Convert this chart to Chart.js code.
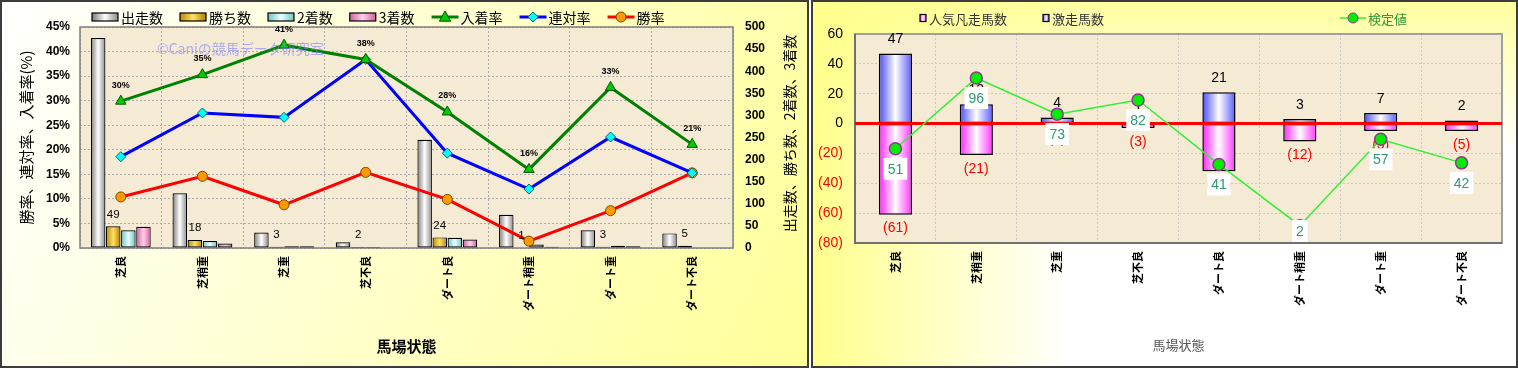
<!DOCTYPE html>
<html lang="ja">
<head>
<meta charset="utf-8">
<title>馬場状態別成績</title>
<script src="https://cdn.jsdelivr.net/npm/chart.js"></script>
<style>
  html, body { margin: 0; padding: 0; background: #fff; }
  body { width: 1518px; height: 369px; position: relative; overflow: hidden; }
  canvas { position: absolute; top: 0; }
  #left { left: 0; }
  #right { left: 811px; }
</style>
</head>
<body>
<canvas id="left" width="809" height="368"></canvas>
<canvas id="right" width="707" height="368"></canvas>
<script>
// ---- データ ----
const categories = ['芝良', '芝稍重', '芝重', '芝不良', 'ダート良', 'ダート稍重', 'ダート重', 'ダート不良'];

// 左：成績
const runs    = [475, 124, 35, 13, 245, 75, 40, 33];   // 出走数
const wins    = [49, 18, 3, 2, 24, 1, 3, 5];           // 勝ち数
const seconds = [40, 16, 4, 2, 23, 8, 5, 0];           // 2着数
const thirds  = [48, 10, 4, 0, 19, 3, 4, 1];           // 3着数
const placeRate  = [29.9, 35.3, 41.3, 38.4, 27.7, 16.0, 32.7, 21.1]; // 入着率(%)
const rentaiRate = [18.6, 27.5, 26.6, 38.4, 19.3, 12.0, 22.6, 15.3]; // 連対率(%)
const winRate    = [10.4, 14.6, 8.8, 15.4, 9.9, 1.4, 7.6, 15.3];     // 勝率(%)
const rateTicks  = { min: 0, max: 45, step: 5 };
const countTicks = { min: 0, max: 500, step: 50 };

// 右：激走／凡走
const gekisou = [47, 13, 4, 1, 21, 3, 7, 2];           // 激走馬数
const bonsou  = [61, 21, 1, 3, 32, 12, 5, 5];          // 人気凡走馬数（下向きに描く）
const kentei  = [51, 96, 73, 82, 41, 2, 57, 42];       // 検定値
const diffTicks = { min: -80, max: 60, step: 20 };

// ---- 共通 ----
const JP = '"Noto Sans CJK JP", sans-serif';
const NUM = '"Liberation Sans", Arial, sans-serif';
Chart.defaults.font.family = JP;
Chart.defaults.color = '#000';

// 棒を円柱風のグラデーションで塗る
function barGradient(stops) {
  return function (ctx) {
    const el = ctx.element;
    if (!el || el.width === undefined || isNaN(el.x)) return stops[1];
    const g = ctx.chart.ctx.createLinearGradient(el.x - el.width / 2, 0, el.x + el.width / 2, 0);
    g.addColorStop(0, stops[0]);
    g.addColorStop(0.5, stops[1]);
    g.addColorStop(1, stops[2]);
    return g;
  };
}

function drawMarker(c, style, x, y, r, fill, stroke, lw) {
  c.save();
  c.beginPath();
  if (style === 'triangle') {
    c.moveTo(x, y - r); c.lineTo(x + r * 0.95, y + r * 0.7); c.lineTo(x - r * 0.95, y + r * 0.7); c.closePath();
  } else if (style === 'rectRot') {
    c.moveTo(x, y - r); c.lineTo(x + r, y); c.lineTo(x, y + r); c.lineTo(x - r, y); c.closePath();
  } else {
    c.arc(x, y, r, 0, Math.PI * 2);
  }
  c.fillStyle = fill; c.fill();
  c.lineWidth = lw; c.strokeStyle = stroke; c.stroke();
  c.restore();
}

function swatchGradient(c, x, w, stops) {
  const g = c.createLinearGradient(x, 0, x + w, 0);
  g.addColorStop(0, stops[0]); g.addColorStop(0.5, stops[1]); g.addColorStop(1, stops[2]);
  return g;
}

// 凡例を描く（item.x があればその位置、なければ続けて並べる）
function drawLegend(c, items, startX, y, opt) {
  let x = startX;
  c.save();
  c.font = opt.font;
  c.textBaseline = 'middle';
  items.forEach(it => {
    if (it.x !== undefined) x = it.x;
    if (it.kind === 'bar') {
      c.fillStyle = swatchGradient(c, x, it.w, it.colors);
      c.fillRect(x, y - it.h / 2, it.w, it.h);
      c.lineWidth = 1.2; c.strokeStyle = '#000';
      c.strokeRect(x, y - it.h / 2, it.w, it.h);
      x += it.w + 3;
    } else {
      c.beginPath(); c.moveTo(x, y); c.lineTo(x + it.w, y);
      c.lineWidth = it.lw; c.strokeStyle = it.line; c.stroke();
      drawMarker(c, it.marker, x + it.w / 2, y, it.r, it.fill, it.stroke, 1);
      x += it.w + 2;
    }
    c.fillStyle = it.color || opt.color;
    c.fillText(it.text, x, y + 1);
    x += c.measureText(it.text).width + opt.gap;
  });
  c.restore();
}

// ---- 左のチャート ----
const runsColors   = ['#7c7c7c', '#ffffff', '#8a8a8a'];
const winsColors   = ['#b88a00', '#ffe066', '#b08000'];
const secondColors = ['#6cc4c4', '#e8ffff', '#6cc4c4'];
const thirdColors  = ['#d0609c', '#ffd0ec', '#d0609c'];

const leftLegend = [
  { text: '出走数', kind: 'bar', w: 26, h: 8, colors: runsColors },
  { text: '勝ち数', kind: 'bar', w: 26, h: 8, colors: winsColors },
  { text: '2着数', kind: 'bar', w: 26, h: 8, colors: secondColors },
  { text: '3着数', kind: 'bar', w: 26, h: 8, colors: thirdColors },
  { text: '入着率', kind: 'line', w: 27, lw: 3, line: '#008000', marker: 'triangle', r: 6, fill: '#00cc00', stroke: '#005500' },
  { text: '連対率', kind: 'line', w: 27, lw: 3, line: '#0000ff', marker: 'rectRot', r: 5, fill: '#00ffff', stroke: '#006666' },
  { text: '勝率', kind: 'line', w: 27, lw: 3, line: '#ff0000', marker: 'circle', r: 5, fill: '#ff9900', stroke: '#7a4a00' }
];

const leftDecor = {
  id: 'leftDecor',
  beforeDraw(chart) {
    const c = chart.ctx, w = chart.width, h = chart.height, a = chart.chartArea;
    const g = c.createLinearGradient(0, 0, w, h);
    g.addColorStop(0, '#ffffff');
    g.addColorStop(1, '#ffff99');
    c.save();
    c.fillStyle = g; c.fillRect(0, 0, w, h);
    c.lineWidth = 2; c.strokeStyle = '#3c3c3c'; c.strokeRect(1, 1, w - 2, h - 2);
    c.fillStyle = '#f5ebd5';
    c.fillRect(a.left, a.top, a.right - a.left, a.bottom - a.top);
    c.restore();
  },
  beforeDatasetsDraw(chart) {
    const c = chart.ctx, a = chart.chartArea;
    c.save();
    c.lineWidth = 1.5; c.strokeStyle = '#808080';
    c.strokeRect(a.left, a.top, a.right - a.left, a.bottom - a.top);
    c.restore();
  },
  afterDatasetsDraw(chart) {
    const c = chart.ctx, a = chart.chartArea;
    c.save();
    // 勝ち数の値
    c.fillStyle = '#000';
    c.textAlign = 'center'; c.textBaseline = 'middle';
    c.font = '11.5px ' + NUM;
    chart.getDatasetMeta(4).data.forEach((el, i) => {
      c.fillText(String(wins[i]), el.x, el.y - 12);
    });
    // 入着率の値
    c.font = 'bold 9px ' + NUM;
    chart.getDatasetMeta(0).data.forEach((el, i) => {
      c.fillText(Math.round(placeRate[i]) + '%', el.x, el.y - 16);
    });
    // 透かし
    c.globalAlpha = 0.6;
    c.fillStyle = '#7f7fff';
    c.font = '14px ' + JP;
    c.textAlign = 'left';
    c.fillText('©Caniの競馬データ研究室', 157, 49);
    c.globalAlpha = 1;
    // 右軸タイトル（下から上へ読む）
    c.translate(790, (a.top + a.bottom) / 2 - 4);
    c.rotate(-Math.PI / 2);
    c.textAlign = 'center';
    c.fillStyle = '#000';
    c.font = '14px ' + JP;
    c.fillText('出走数、勝ち数、2着数、3着数', 0, 0);
    c.restore();
    drawLegend(c, leftLegend, 92, 17, { font: '14px ' + JP, color: '#000', gap: 17 });
  }
};

const gridDash = { display: false, dash: [2, 2] };

const leftChart = new Chart(document.getElementById('left'), {
  type: 'bar',
  data: {
    labels: categories,
    datasets: [
      { type: 'line', label: '入着率', data: placeRate, yAxisID: 'y', order: 0,
        borderColor: '#008000', borderWidth: 3, tension: 0,
        pointStyle: 'triangle', pointRadius: 6, pointBackgroundColor: '#00cc00',
        pointBorderColor: '#005500', pointBorderWidth: 1 },
      { type: 'line', label: '連対率', data: rentaiRate, yAxisID: 'y', order: 0,
        borderColor: '#0000ff', borderWidth: 3, tension: 0,
        pointStyle: 'rectRot', pointRadius: 5, pointBackgroundColor: '#00ffff',
        pointBorderColor: '#006666', pointBorderWidth: 1 },
      { type: 'line', label: '勝率', data: winRate, yAxisID: 'y', order: 0,
        borderColor: '#ff0000', borderWidth: 3, tension: 0,
        pointStyle: 'circle', pointRadius: 5, pointBackgroundColor: '#ff9900',
        pointBorderColor: '#7a4a00', pointBorderWidth: 1 },
      { label: '出走数', data: runs, yAxisID: 'y1', order: 1, backgroundColor: barGradient(runsColors) },
      { label: '勝ち数', data: wins, yAxisID: 'y1', order: 1, backgroundColor: barGradient(winsColors) },
      { label: '2着数', data: seconds, yAxisID: 'y1', order: 1, backgroundColor: barGradient(secondColors) },
      { label: '3着数', data: thirds, yAxisID: 'y1', order: 1, backgroundColor: barGradient(thirdColors) }
    ]
  },
  options: {
    responsive: false,
    animation: false,
    layout: { padding: { top: 27, left: 0, right: 0, bottom: 0 } },
    datasets: {
      bar: { categoryPercentage: 0.74, barPercentage: 0.96, borderColor: '#000', borderWidth: 1.2, borderSkipped: false }
    },
    plugins: { legend: { display: false }, tooltip: { enabled: false } },
    scales: {
      x: {
        afterFit: s => { s.height = 120; },
        grid: { color: '#aaaaaa', drawTicks: false, offset: true },
        border: gridDash,
        ticks: { minRotation: 90, maxRotation: 90, autoSkip: false, padding: 8,
                 font: { size: 11, weight: 'bold' }, color: '#000' },
        title: { display: true, text: '馬場状態', font: { size: 15, weight: 'bold' }, color: '#000',
                 padding: { top: 0, bottom: 13 } }
      },
      y: {
        position: 'left',
        min: rateTicks.min, max: rateTicks.max,
        afterFit: s => { s.width = 80; },
        grid: { color: '#aaaaaa', drawTicks: false },
        border: gridDash,
        ticks: { stepSize: rateTicks.step, padding: 10, color: '#000',
                 font: { family: NUM, size: 12, weight: 'bold' },
                 callback: v => v + '%' },
        title: { display: true, text: '勝率、連対率、入着率(%)', font: { size: 15 }, color: '#000',
                 padding: { top: 17, bottom: 0 } }
      },
      y1: {
        position: 'right',
        min: countTicks.min, max: countTicks.max,
        afterFit: s => { s.width = 76; },
        grid: { drawOnChartArea: false, drawTicks: false },
        border: { display: false },
        ticks: { stepSize: countTicks.step, padding: 12, color: '#000',
                 font: { family: NUM, size: 12, weight: 'bold' } }
      }
    }
  },
  plugins: [leftDecor]
});
leftChart.update();

// ---- 右のチャート ----
const blueColors = ['#4a4aff', '#ffffff', '#5a5aff'];
const pinkColors = ['#ff22ff', '#ffffff', '#ff33ff'];

const rightLegend = [
  { x: 109, text: '人気凡走馬数', kind: 'bar', w: 6, h: 7, colors: pinkColors },
  { x: 232, text: '激走馬数', kind: 'bar', w: 6, h: 7, colors: blueColors },
  { x: 529, text: '検定値', kind: 'line', w: 26, lw: 1.5, line: '#33ee33', marker: 'circle', r: 5,
    fill: '#00ee00', stroke: '#993399', color: '#339933' }
];

const rightDecor = {
  id: 'rightDecor',
  beforeDraw(chart) {
    const c = chart.ctx, w = chart.width, h = chart.height, a = chart.chartArea;
    c.save();
    c.fillStyle = '#ffffff'; c.fillRect(0, 0, w, h);
    const gh = c.createLinearGradient(0, 0, 260, 0);
    gh.addColorStop(0, 'rgba(255,255,140,1)');
    gh.addColorStop(1, 'rgba(255,255,140,0)');
    c.fillStyle = gh; c.fillRect(0, 0, w, h);
    const gv = c.createLinearGradient(0, 0, 0, 150);
    gv.addColorStop(0, 'rgba(255,255,140,0.85)');
    gv.addColorStop(1, 'rgba(255,255,140,0)');
    c.fillStyle = gv; c.fillRect(0, 0, w, h);
    c.lineWidth = 2; c.strokeStyle = '#3c3c3c'; c.strokeRect(1, 1, w - 2, h - 2);
    c.fillStyle = '#f5ebd5';
    c.fillRect(a.left, a.top, a.right - a.left, a.bottom - a.top);
    c.restore();
  },
  beforeDatasetsDraw(chart) {
    const c = chart.ctx, a = chart.chartArea;
    c.save();
    c.lineWidth = 2; c.strokeStyle = '#a0a0a0';
    c.strokeRect(a.left, a.top, a.right - a.left, a.bottom - a.top);
    c.strokeStyle = '#707070';
    c.beginPath();
    c.moveTo(a.left, a.top); c.lineTo(a.left, a.bottom); c.lineTo(a.right, a.bottom);
    c.stroke();
    c.restore();
  },
  beforeDatasetDraw(chart, args) {
    if (args.index !== 2) return;
    const c = chart.ctx, a = chart.chartArea;
    const y0 = chart.scales.y.getPixelForValue(0);
    c.save();
    // 0 の赤線
    c.beginPath(); c.moveTo(a.left, y0); c.lineTo(a.right, y0);
    c.lineWidth = 3; c.strokeStyle = '#ff0000'; c.stroke();
    // 棒の値
    c.textAlign = 'center'; c.textBaseline = 'middle';
    c.font = '14px ' + NUM;
    c.fillStyle = '#000';
    chart.getDatasetMeta(0).data.forEach((el, i) => {
      c.fillText(String(gekisou[i]), el.x, el.y - 14);
    });
    c.fillStyle = '#ff0000';
    chart.getDatasetMeta(1).data.forEach((el, i) => {
      c.fillText('(' + bonsou[i] + ')', el.x, el.y + 14);
    });
    c.restore();
  },
  afterDatasetsDraw(chart) {
    const c = chart.ctx, a = chart.chartArea;
    c.save();
    c.font = '14px ' + NUM;
    c.textAlign = 'center'; c.textBaseline = 'middle';
    chart.getDatasetMeta(2).data.forEach((el, i) => {
      const t = String(kentei[i]);
      const tw = c.measureText(t).width + 8;
      const cy = Math.min(el.y + 20, a.bottom - 12);
      c.fillStyle = '#ffffff';
      c.fillRect(el.x - tw / 2, cy - 11, tw, 22);
      c.fillStyle = '#2e9970';
      c.fillText(t, el.x, cy + 1);
    });
    c.restore();
    drawLegend(c, rightLegend, 0, 18, { font: '13px ' + JP, color: '#333', gap: 30 });
  }
};

const rightChart = new Chart(document.getElementById('right'), {
  type: 'bar',
  data: {
    labels: categories,
    datasets: [
      { label: '激走馬数', data: gekisou, yAxisID: 'y', order: 2, backgroundColor: barGradient(blueColors) },
      { label: '人気凡走馬数', data: bonsou.map(v => -v), yAxisID: 'y', order: 2, backgroundColor: barGradient(pinkColors) },
      { type: 'line', label: '検定値', data: kentei, yAxisID: 'y2', order: 1,
        borderColor: '#33ee33', borderWidth: 1.5, tension: 0,
        pointRadius: 6, pointBackgroundColor: '#00ee00',
        pointBorderColor: '#993399', pointBorderWidth: 1.5 }
    ]
  },
  options: {
    responsive: false,
    animation: false,
    layout: { padding: { top: 34, left: 0, right: 16, bottom: 0 } },
    datasets: {
      bar: { categoryPercentage: 1, barPercentage: 0.41, borderColor: '#000', borderWidth: 1.5, borderSkipped: false }
    },
    plugins: { legend: { display: false }, tooltip: { enabled: false } },
    scales: {
      x: {
        stacked: true,
        afterFit: s => { s.height = 125; },
        grid: { color: '#c8c8c8', drawTicks: false, offset: true },
        border: gridDash,
        ticks: { minRotation: 90, maxRotation: 90, autoSkip: false, padding: 8,
                 font: { size: 11, weight: 'bold' }, color: '#000' },
        title: { display: true, text: '馬場状態', font: { size: 13 }, color: '#555',
                 padding: { top: 0, bottom: 15 } }
      },
      y: {
        stacked: true,
        position: 'left',
        min: diffTicks.min, max: diffTicks.max,
        afterFit: s => { s.width = 44; },
        grid: { color: '#c8c8c8', drawTicks: false },
        border: gridDash,
        ticks: { stepSize: diffTicks.step, padding: 12,
                 font: { family: NUM, size: 14 },
                 color: c => (c.tick && c.tick.value < 0 ? '#ff0000' : '#000'),
                 callback: v => (v < 0 ? '(' + (-v) + ')' : String(v)) }
      },
      y2: { display: false, min: -9, max: 124 }
    }
  },
  plugins: [rightDecor]
});
rightChart.update();
</script>
</body>
</html>
